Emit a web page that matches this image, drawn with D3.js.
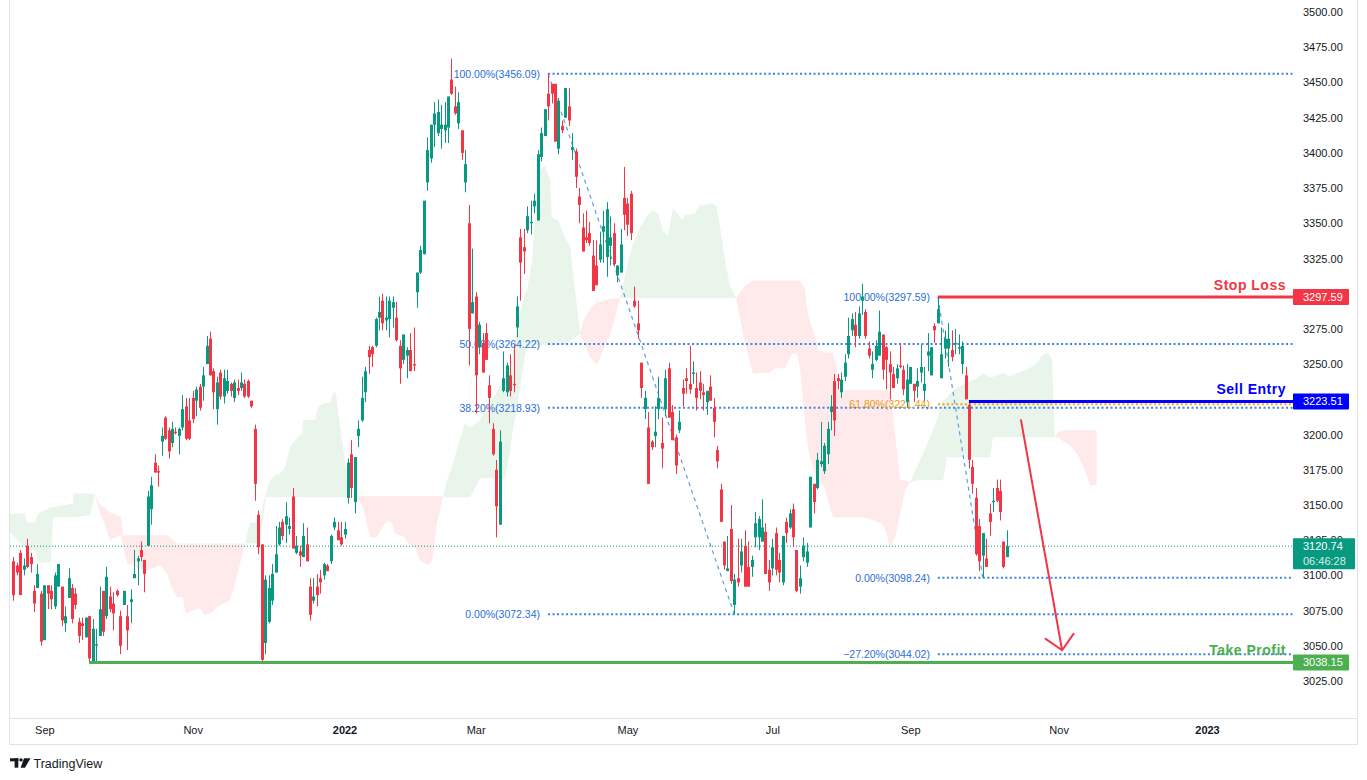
<!DOCTYPE html>
<html>
<head>
<meta charset="utf-8">
<title>Chart</title>
<script src="https://cdn.jsdelivr.net/npm/d3@7"></script>
<style>
html,body{margin:0;padding:0;background:#ffffff;}
svg{display:block;font-family:"Liberation Sans",Arial,Helvetica,sans-serif;}
</style>
</head>
<body>
<svg id="chart" width="1367" height="780"></svg>
<script>
// ================= DATA =================
const opens = [3110,3107,3116,3104,3121,3113,3089,3091,3087,3054,
3093,3089,3078,3092,3092,3066,3084,3091,3087,3067,
3066,3056,3071,3039,3050,3057,3089,3071,3085,3080,
3089,3071,3079,3071,3081,3098,3110,3118,3111,3121,
3147,3180,3174,3195,3212,3203,3194,3202,3199,3205,
3220,3210,3226,3224,3234,3234,3250,3268,3245,3218,
3244,3227,3231,3236,3226,3233,3233,3236,3238,3224,
3204,3143,3122,3052,3067,3082,3102,3122,3138,3136,
3133,3156,3116,3117,3113,3122,3092,3082,3092,3098,
3100,3107,3110,3134,3132,3127,3129,3155,3186,3152,
3199,3210,3230,3260,3262,3263,3283,3295,3281,3282,
3290,3283,3263,3253,3256,3260,3250,3301,3315,3328,
3379,3396,3420,3414,3417,3416,3418,3452,3433,3421,
3416,3379,3350,3286,3298,3262,3265,3272,3235,3204,
3175,3136,3231,3230,3242,3236,3276,3340,3333,3345,
3350,3362,3352,3397,3412,3442,3449,3449,3403,3419,
3425,3433,3402,3401,3369,3347,3340,3343,3327,3320,
3324,3344,3326,3334,3343,3313,3315,3368,3364,3371,
3295,3279,3251,3218,3205,3195,3199,3218,3194,3218,
3247,3216,3198,3203,3233,3240,3236,3243,3233,3237,
3230,3223,3234,3219,3189,3161,3124,3103,3133,3079,
3098,3107,3121,3106,3106,3127,3127,3124,3131,3104,
3105,3130,3111,3095,3138,3134,3147,3118,3092,3113,
3109,3134,3165,3162,3179,3174,3186,3216,3238,3240,
3230,3241,3257,3274,3278,3270,3295,3287,3261,3246,
3253,3256,3271,3262,3250,3243,3240,3249,3246,3223,
3236,3236,3234,3244,3231,3256,3242,3277,3279,3240,
3261,3261,3260,3264,3261,3250,3242,3221,3177,3155,
3135,3114,3112,3144,3152,3162,3160,3124,3113];

const highs = [3113,3109,3118,3112,3126,3116,3093,3108,3089,3093,
3093,3093,3102,3108,3092,3078,3105,3094,3091,3070,
3070,3070,3071,3069,3062,3092,3089,3106,3092,3088,
3090,3075,3089,3079,3090,3118,3114,3124,3111,3160,
3170,3186,3178,3205,3213,3205,3209,3205,3205,3228,
3226,3226,3231,3234,3236,3248,3270,3273,3247,3241,
3246,3246,3246,3237,3239,3239,3244,3239,3239,3224,
3207,3146,3122,3100,3100,3108,3135,3138,3140,3152,
3141,3162,3128,3121,3137,3134,3098,3098,3101,3104,
3109,3108,3129,3141,3138,3138,3138,3183,3196,3184,
3210,3241,3248,3263,3263,3283,3298,3300,3298,3298,
3298,3294,3267,3271,3262,3272,3276,3315,3334,3366,
3411,3420,3436,3438,3434,3436,3440,3467,3447,3443,
3416,3402,3363,3332,3301,3280,3272,3279,3242,3208,
3182,3203,3259,3251,3257,3264,3298,3346,3346,3362,
3366,3371,3402,3418,3431,3456.09,3449,3449,3439,3423,
3446,3446,3414,3403,3375,3357,3359,3351,3338,3338,
3344,3359,3365,3355,3350,3320,3346,3390,3368,3373,
3305,3295,3251,3231,3216,3196,3220,3241,3212,3246,
3251,3221,3200,3217,3239,3247,3263,3252,3244,3245,
3236,3231,3242,3226,3192,3165,3124,3128,3150,3101,
3126,3126,3132,3124,3114,3145,3142,3154,3137,3111,
3126,3134,3116,3128,3141,3147,3151,3118,3107,3127,
3123,3170,3165,3187,3209,3194,3209,3228,3243,3243,
3244,3257,3283,3286,3287,3291,3307,3289,3266,3259,
3267,3288,3271,3263,3259,3248,3250,3264,3249,3250,
3248,3236,3247,3264,3248,3272,3262,3279,3297.59,3276,
3274,3279,3274,3275,3271,3266,3248,3223,3182,3162,
3140,3130,3126,3151,3162,3168,3168,3124,3132];

const lows = [3082,3100,3086,3100,3105,3102,3074,3091,3050,3054,
3076,3076,3076,3092,3064,3060,3084,3066,3076,3052,
3054,3056,3038.15,3039,3039,3057,3057,3069,3074,3061,
3085,3044,3079,3047,3066,3098,3093,3110,3088,3121,
3136,3173,3163,3185,3196,3183,3191,3200,3186,3203,
3196,3196,3208,3213,3217,3224,3250,3242,3218,3207,
3225,3222,3229,3227,3223,3228,3231,3226,3226,3219,
3153,3115,3039,3044,3066,3079,3102,3121,3125,3123,
3129,3119,3115,3106,3113,3110,3068,3080,3078,3087,
3097,3103,3108,3132,3125,3121,3126,3151,3155,3144,
3191,3209,3223,3243,3248,3262,3274,3274,3274,3269,
3276,3266,3236,3250,3240,3245,3245,3290,3314,3328,
3373,3393,3404,3412,3403,3407,3407,3441,3427,3417,
3395,3372,3249,3286,3215,3257,3244,3253,3208,3185,
3127,3136,3230,3227,3227,3230,3269,3295,3314,3343,
3342,3357,3352,3394,3412,3423,3435,3408,3399,3414,
3425,3419,3395,3375,3350,3330,3336,3334,3302,3306,
3322,3322,3312,3320,3320,3308,3315,3345,3341,3338,
3290,3268,3226,3211,3165,3189,3191,3211,3176,3213,
3212,3196,3172,3201,3220,3229,3229,3236,3217,3225,
3217,3214,3224,3198,3176,3138,3104,3103,3094,3072.34,
3092,3102,3092,3092,3099,3120,3118,3124,3101,3089,
3100,3100,3095,3093,3123,3133,3120,3088,3087,3110,
3106,3134,3144,3161,3177,3172,3179,3203,3199,3232,
3226,3238,3254,3270,3262,3268,3285,3268,3254,3240,
3252,3256,3239,3232,3225,3233,3236,3247,3228,3219,
3236,3223,3226,3237,3224,3245,3242,3265,3279,3240,
3254,3248,3252,3257,3257,3243,3225,3176,3158,3114,
3103,3098.24,3106,3128,3145,3152,3139,3105,3113];

const closes = [3086,3102,3086,3107,3106,3108,3080,3101,3053,3093,
3087,3083,3100,3108,3068,3071,3098,3069,3079,3057,
3064,3070,3041,3062,3051,3076,3060,3099,3076,3073,
3086,3050,3089,3061,3083,3101,3112,3113,3101,3156,
3164,3173,3173,3199,3197,3188,3204,3201,3204,3218,
3197,3197,3211,3232,3219,3242,3263,3242,3230,3237,
3227,3240,3238,3231,3237,3231,3237,3227,3227,3220,
3165,3120,3040,3097,3091,3101,3115,3134,3128,3142,
3135,3119,3121,3114,3128,3110,3072,3085,3086,3095,
3108,3103,3128,3138,3125,3122,3133,3180,3162,3184,
3204,3226,3245,3255,3257,3282,3287,3279,3283,3295,
3294,3267,3247,3271,3260,3245,3249,3315,3331,3366,
3402,3420,3428,3429,3420,3420,3440,3442,3428,3436,
3400,3392,3275,3294,3242,3278,3244,3253,3226,3186,
3149,3195,3240,3249,3231,3235,3291,3322,3330,3355,
3351,3366,3399,3414,3431,3433,3442,3408,3437,3416,
3446,3423,3404,3383,3363,3330,3338,3336,3302,3306,
3335,3348,3360,3340,3321,3320,3335,3356,3349,3343,
3291,3274,3233,3226,3165,3191,3202,3226,3190,3240,
3212,3196,3178,3209,3229,3238,3232,3244,3226,3231,
3228,3231,3224,3209,3181,3138,3107,3105,3096,3097,
3095,3117,3092,3092,3111,3137,3140,3134,3101,3095,
3120,3104,3102,3128,3130,3144,3127,3089,3098,3121,
3117,3170,3152,3182,3181,3192,3204,3220,3210,3238,
3239,3251,3270,3282,3270,3286,3298,3270,3256,3250,
3263,3273,3246,3253,3244,3233,3247,3248,3232,3239,
3248,3231,3238,3248,3236,3259,3262,3274,3289,3257,
3268,3268,3255,3265,3262,3263,3225,3182,3165,3115,
3110,3130,3106,3138,3153,3153,3145,3106,3120.74];

// time axis: bar index of first trading day of each labelled month
const monthIdx = [9, 52, 96, 134, 178, 220, 260, 303, 346];
const monthLabels = ['Sep', 'Nov', '2022', 'Mar', 'May', 'Jul', 'Sep', 'Nov', '2023'];
const lastBarSlot = 371;

const priceTicks = [3025,3050,3075,3100,3125,3150,3175,3200,3225,3250,3275,3300,
  3325,3350,3375,3400,3425,3450,3475,3500];

const lastPrice = 3120.74;
const countdown = '06:46:28';

// Fibonacci retracements: [start bar, end bar], [100% price, 0% price], levels
const fib1Idx = [155, 209];
const fib1Price = [3456.09, 3072.34];
const fib1Levels = [1, 0.5, 0.382, 0];
const fib2Idx = [268, 281];
const fib2Price = [3297.59, 3098.24];
const fib2Levels = [1, 0.618, 0, -0.272];

// trade levels
const tradeNames = ['Stop Loss', 'Sell Entry', 'Take Profit'];
const tradePrices = [3297.59, 3223.51, 3038.15];
const tradeStartIdx = [268, 277, 22];

// projection arrow
const arrowIdx = [292.1, 304.0];
const arrowPrice = [3210.1, 3046.8];

// Ichimoku cloud outline (bar index, upper span, lower span), split into segments
const cloudSegLen = [11, 22, 23, 17, 25, 8, 21, 30, 22, 8];
const cloudSegBull = [1, 0, 1, 0, 1, 0, 1, 0, 1, 0];
const cloudIdx = [
 -1,3.4,4.0,6.3,7.2,10.9,11.5,17.3,17.4,22.2,23.7,
 23.7,25.1,26.6,28.0,31.2,31.8,33.0,38.8,42.5,44.6,45.7,47.4,49.2,49.8,54.1,55.6,57.6,59.0,62.8,64.3,65.7,67.2,
 67.2,67.5,68.6,71.5,72.4,73.2,74.4,75.9,77.3,78.8,80.2,81.7,83.7,84.0,87.4,88.3,89.8,91.8,92.7,93.5,94.7,96.1,97.6,
 97.6,99.6,101.4,103.4,105.4,106.9,108.6,109.8,110.6,113.5,114.4,116.4,117.9,120.2,121.4,122.8,124.6,
 124.6,125.7,127.5,128.9,130.9,132.4,135.3,137.6,139.6,142.5,144.0,144.6,146.3,148.3,148.9,150.4,151.2,152.7,154.1,155.6,156.1,157.9,159.9,161.4,164.3,
 164.3,165.7,167.2,169.2,170.9,172.9,174.4,175.9,
 175.9,178.2,179.3,181.6,183.7,185.4,186.9,188.3,189.8,191.2,192.4,193.8,194.7,197.6,199.0,202.5,203.7,204.8,206.3,207.7,209.5,
 209.5,212.1,214.4,219.3,220.8,223.7,225.7,227.2,228.1,229.5,230.1,230.9,231.8,232.4,233.2,235.2,235.9,237.6,238.8,239.6,246.3,249.2,251.8,253.2,254.0,254.6,255.6,257.0,258.5,259.9,
 259.9,261.9,263.7,265.7,267.7,269.5,270.6,272.4,275.9,279.3,281.1,283.1,284.0,286.9,288.9,290.9,293.2,296.1,298.2,299.9,301.1,301.9,
 301.9,302.8,304.8,306.3,308.6,310.6,312.1,314.0];
const cloudHi = [
 3144.0,3144.0,3137.6,3137.6,3144.0,3148.3,3148.3,3151.1,3158.2,3158.2,3157.0,
 3157.0,3149.7,3147.6,3144.7,3141.2,3128.4,3128.4,3128.4,3128.4,3128.4,3126.3,3122.7,3122.7,3122.7,3122.7,3122.7,3122.7,3122.7,3122.7,3122.7,3122.7,3122.7,
 3122.7,3127.0,3137.6,3137.6,3151.1,3158.2,3167.5,3171.0,3172.4,3176.7,3190.9,3195.9,3200.8,3210.1,3210.1,3219.3,3222.1,3222.8,3229.9,3229.9,3206.5,3181.7,3155.7,
 3155.7,3156.1,3156.1,3156.1,3156.1,3156.1,3156.1,3156.1,3156.1,3156.1,3156.1,3156.1,3156.1,3156.1,3156.1,3156.1,3156.1,
 3156.1,3167.5,3179.5,3192.3,3207.9,3205.1,3210.1,3222.1,3227.8,3240.6,3249.1,3256.2,3281.1,3300.2,3302.0,3323.6,3352.1,3387.5,3391.1,3380.5,3354.2,3352.1,3340.0,3332.9,3272.0,
 3272.0,3283.2,3289.6,3293.8,3295.0,3296.0,3296.5,3296.7,
 3296.7,3323.6,3332.9,3346.4,3355.6,3359.2,3357.0,3344.9,3341.4,3360.6,3357.7,3352.1,3355.6,3357.0,3362.7,3364.1,3362.7,3348.5,3323.6,3305.9,3296.7,
 3296.7,3305.9,3309.4,3309.4,3309.4,3309.4,3309.4,3309.4,3309.4,3303.0,3289.6,3280.0,3274.0,3270.0,3259.8,3258.3,3258.3,3258.3,3245.6,3231.4,3231.4,3231.4,3231.4,3231.4,3231.4,3222.0,3200.0,3167.5,3167.5,3166.0,
 3166.0,3176.7,3186.6,3198.0,3210.1,3224.3,3226.0,3231.4,3236.3,3239.9,3243.4,3240.6,3241.0,3243.4,3241.3,3243.4,3245.6,3249.1,3256.2,3258.3,3252.7,3198.2,
 3198.2,3201.5,3203.0,3203.0,3203.0,3203.0,3203.0,3203.0];
const cloudLo = [
 3130.5,3119.9,3117.8,3117.8,3109.2,3109.2,3141.2,3141.2,3141.2,3142.6,3157.0,
 3157.0,3144.7,3135.5,3124.9,3128.4,3121.3,3108.5,3103.5,3107.1,3101.4,3092.9,3084.4,3084.4,3073.0,3076.6,3071.6,3073.7,3077.3,3082.3,3094.3,3108.5,3122.7,
 3122.7,3122.7,3122.7,3122.7,3139.1,3155.4,3155.4,3155.4,3155.4,3155.4,3155.4,3155.4,3155.4,3155.4,3155.4,3155.4,3155.4,3155.4,3155.4,3155.4,3155.4,3155.4,3155.7,
 3155.7,3155.4,3148.3,3127.0,3127.0,3134.1,3139.1,3136.9,3129.8,3127.0,3122.7,3119.9,3110.7,3107.1,3110.7,3136.9,3156.1,
 3156.1,3155.4,3155.4,3155.4,3155.4,3155.4,3168.9,3168.9,3168.9,3168.9,3188.8,3200.0,3224.3,3256.0,3261.9,3263.0,3263.3,3263.3,3263.3,3263.3,3263.3,3263.3,3264.0,3266.9,3271.0,
 3271.0,3263.3,3254.8,3249.1,3259.8,3270.4,3283.2,3296.7,
 3296.7,3296.7,3296.7,3296.7,3296.7,3296.7,3296.7,3296.7,3296.7,3296.7,3296.7,3296.7,3296.7,3296.7,3296.7,3296.7,3296.7,3296.7,3296.7,3296.7,3296.7,
 3296.7,3264.7,3243.4,3244.1,3247.0,3247.0,3257.6,3257.6,3245.6,3208.0,3195.0,3183.8,3178.0,3171.0,3168.0,3162.5,3155.4,3141.2,3141.2,3141.2,3141.2,3139.1,3136.9,3129.8,3119.9,3122.0,3127.0,3142.6,3160.4,3166.0,
 3166.0,3167.5,3167.5,3167.5,3167.5,3167.5,3183.8,3183.8,3183.8,3183.8,3183.8,3183.8,3198.0,3198.0,3198.0,3198.0,3198.0,3198.0,3198.0,3198.0,3198.0,3198.0,
 3198.0,3198.0,3194.5,3192.3,3185.2,3174.6,3163.9,3163.9];

// ================= RENDER =================
const UP = '#089981', DN = '#f23645';
const FIB_BLUE = '#3d84e6', FIB_BLUE_T = '#2a6fd8';
const FIB_ORANGE = '#f5a31a', FIB_ORANGE_T = '#eb9a12';
const TRADE_COLORS = ['#f23645', '#0000ff', '#4caf50'];
const AXIS_TXT = '#131722', BORDER = '#e0e3eb';

const plotX0 = 10, plotX1 = 1293, plotY1 = 718;
const x = d3.scaleLinear().domain([-1, lastBarSlot]).range([9.85, 1293.25]);
const y = d3.scaleLinear().domain([3025, 3500]).range([681, 12]);
const fmt2 = d3.format('.2f');

const svg = d3.select('#chart');
svg.append('rect').attr('width', 1367).attr('height', 780).attr('fill', '#ffffff');

const defs = svg.append('defs');
defs.append('clipPath').attr('id', 'plotClip').append('rect')
  .attr('x', plotX0).attr('y', 0).attr('width', plotX1 - plotX0).attr('height', plotY1);
const plot = svg.append('g').attr('clip-path', 'url(#plotClip)');

// --- Ichimoku cloud
const segs = [];
let k = 0;
cloudSegLen.forEach((len, s) => {
  const pts = [];
  for (let j = 0; j < len; j++, k++) pts.push({i: cloudIdx[k], hi: cloudHi[k], lo: cloudLo[k]});
  segs.push({bull: cloudSegBull[s], pts});
});
const area = d3.area().x(d => x(d.i)).y0(d => y(d.lo)).y1(d => y(d.hi));
plot.append('g').selectAll('path').data(segs).join('path')
  .attr('d', d => area(d.pts))
  .attr('fill', d => d.bull ? '#4caf50' : '#f23645')
  .attr('fill-opacity', d => d.bull ? 0.12 : 0.11);

// --- last price line
plot.append('line')
  .attr('x1', plotX0).attr('x2', plotX1)
  .attr('y1', y(lastPrice)).attr('y2', y(lastPrice))
  .attr('stroke', UP).attr('stroke-width', 1).attr('stroke-dasharray', '1 2');

// --- Fibonacci retracements
function drawFib(idx, prices, levels) {
  const [hi, lo] = prices;
  const xs = x(idx[0]);
  const g = plot.append('g');
  levels.forEach(lv => {
    const p = lo + lv * (hi - lo);
    const orange = lv === 0.618;
    g.append('line')
      .attr('x1', xs).attr('x2', plotX1).attr('y1', y(p)).attr('y2', y(p))
      .attr('stroke', orange ? FIB_ORANGE : FIB_BLUE).attr('stroke-width', 2)
      .attr('stroke-dasharray', '2 2.5');
    g.append('text')
      .attr('x', xs - 8).attr('y', y(p)).attr('dy', '0.35em')
      .attr('text-anchor', 'end').attr('font-size', 10.5)
      .attr('fill', orange ? FIB_ORANGE_T : FIB_BLUE_T)
      .text(`${fmt2(lv * 100)}%(${fmt2(p + 1e-6)})`);
  });
  g.append('line')
    .attr('x1', x(idx[0])).attr('y1', y(hi))
    .attr('x2', x(idx[1])).attr('y2', y(lo))
    .attr('stroke', '#5c9be8').attr('stroke-width', 1.2).attr('stroke-dasharray', '4 4');
}
drawFib(fib1Idx, fib1Price, fib1Levels);
drawFib(fib2Idx, fib2Price, fib2Levels);

// --- candles
const candles = opens.map((o, i) => ({i, o, h: highs[i], l: lows[i], c: closes[i]}));
const gc = plot.append('g');
gc.selectAll('line').data(candles).join('line')
  .attr('x1', d => Math.round(x(d.i)) + 0.5).attr('x2', d => Math.round(x(d.i)) + 0.5)
  .attr('y1', d => y(d.h)).attr('y2', d => y(d.l))
  .attr('stroke', d => d.c >= d.o ? UP : DN).attr('stroke-width', 1);
gc.selectAll('rect').data(candles).join('rect')
  .attr('x', d => Math.round(x(d.i)) - 1)
  .attr('width', 3)
  .attr('y', d => Math.min(y(d.o), y(d.c)))
  .attr('height', d => Math.max(1, Math.abs(y(d.o) - y(d.c))))
  .attr('fill', d => d.c >= d.o ? UP : DN);

// --- trade lines and labels
const gt = plot.append('g');
tradeNames.forEach((name, i) => {
  const yy = y(tradePrices[i]);
  gt.append('line')
    .attr('x1', x(tradeStartIdx[i])).attr('x2', plotX1).attr('y1', yy).attr('y2', yy)
    .attr('stroke', TRADE_COLORS[i]).attr('stroke-width', 3);
  gt.append('text')
    .attr('x', 1286).attr('y', yy - 12).attr('dy', '0.35em')
    .attr('text-anchor', 'end').attr('font-size', 14).attr('font-weight', 'bold')
    .attr('letter-spacing', '0.5px')
    .attr('fill', TRADE_COLORS[i]).text(name);
});

// --- arrow
{
  const ax0 = x(arrowIdx[0]), ay0 = y(arrowPrice[0]);
  const ax1 = x(arrowIdx[1]), ay1 = y(arrowPrice[1]);
  const ang = Math.atan2(ay1 - ay0, ax1 - ax0);
  const hl = 20, ha = Math.PI / 4;
  const p1 = [ax1 - hl * Math.cos(ang - ha), ay1 - hl * Math.sin(ang - ha)];
  const p2 = [ax1 - hl * Math.cos(ang + ha), ay1 - hl * Math.sin(ang + ha)];
  plot.append('path')
    .attr('d', `M${ax0},${ay0}L${ax1},${ay1}M${p1[0]},${p1[1]}L${ax1},${ay1}L${p2[0]},${p2[1]}`)
    .attr('fill', 'none').attr('stroke', '#f23645').attr('stroke-width', 2)
    .attr('stroke-linecap', 'round').attr('stroke-linejoin', 'round');
}

// --- frame
const gf = svg.append('g').attr('stroke', BORDER).attr('stroke-width', 1);
gf.append('line').attr('x1', 9.5).attr('x2', 9.5).attr('y1', 0).attr('y2', 744.5);
gf.append('line').attr('x1', 1357.5).attr('x2', 1357.5).attr('y1', 0).attr('y2', 744.5);
gf.append('line').attr('x1', 9.5).attr('x2', 1357.5).attr('y1', 718.5).attr('y2', 718.5);
gf.append('line').attr('x1', 9.5).attr('x2', 1357.5).attr('y1', 744.5).attr('y2', 744.5);

// --- price axis (labels that sit under a trade-level price tag are hidden, as in the chart)
const visibleTicks = priceTicks.filter(t => tradePrices.every(p => Math.abs(y(t) - y(p)) >= 10));
const yAxis = d3.axisRight(y).tickValues(visibleTicks).tickFormat(fmt2).tickSize(0).tickPadding(0);
const gy = svg.append('g').attr('transform', 'translate(1303,0)').call(yAxis);
gy.select('.domain').remove();
gy.selectAll('text').attr('font-size', 11).attr('fill', AXIS_TXT)
  .attr('font-family', '"Liberation Sans",Arial,sans-serif');

// --- time axis
const xAxis = d3.axisBottom(x).tickValues(monthIdx).tickFormat((d, i) => monthLabels[i]).tickSize(0).tickPadding(0);
const gx = svg.append('g').attr('transform', 'translate(0,726)').call(xAxis);
gx.select('.domain').remove();
gx.selectAll('text').attr('font-size', 11).attr('fill', AXIS_TXT)
  .attr('font-family', '"Liberation Sans",Arial,sans-serif')
  .attr('font-weight', (d, i) => /^\d{4}$/.test(monthLabels[i]) ? 'bold' : 'normal');

// --- price tags
function tag(price, color) {
  const yy = y(price);
  svg.append('rect').attr('x', 1293).attr('y', yy - 8).attr('width', 56).attr('height', 16)
    .attr('fill', color).attr('rx', 1);
  svg.append('text').attr('x', 1303).attr('y', yy).attr('dy', '0.35em')
    .attr('font-size', 11).attr('fill', '#ffffff').text(fmt2(price));
}
tradePrices.forEach((p, i) => tag(p, TRADE_COLORS[i]));
{
  const yy = y(lastPrice);
  svg.append('rect').attr('x', 1293).attr('y', yy - 8).attr('width', 62).attr('height', 31)
    .attr('fill', UP).attr('rx', 1);
  svg.append('text').attr('x', 1303).attr('y', yy).attr('dy', '0.35em')
    .attr('font-size', 11).attr('fill', '#ffffff').text(fmt2(lastPrice));
  svg.append('text').attr('x', 1303).attr('y', yy + 14.5).attr('dy', '0.35em')
    .attr('font-size', 11).attr('fill', '#ffffff').attr('fill-opacity', 0.85).text(countdown);
}

// --- TradingView logo
const gl = svg.append('g').attr('fill', '#131722');
gl.append('rect').attr('x', 10).attr('y', 758.3).attr('width', 8.3).attr('height', 3);
gl.append('rect').attr('x', 14.6).attr('y', 758.3).attr('width', 3.7).attr('height', 9.4);
gl.append('circle').attr('cx', 21).attr('cy', 759.9).attr('r', 1.7);
gl.append('path').attr('d', 'M24,758.3L30.5,758.3L25,767.7L20.6,767.7Z');
svg.append('text').attr('x', 33.5).attr('y', 764).attr('dy', '0.35em')
  .attr('font-size', 12.5).attr('fill', '#131722').text('TradingView');
</script>
</body>
</html>
